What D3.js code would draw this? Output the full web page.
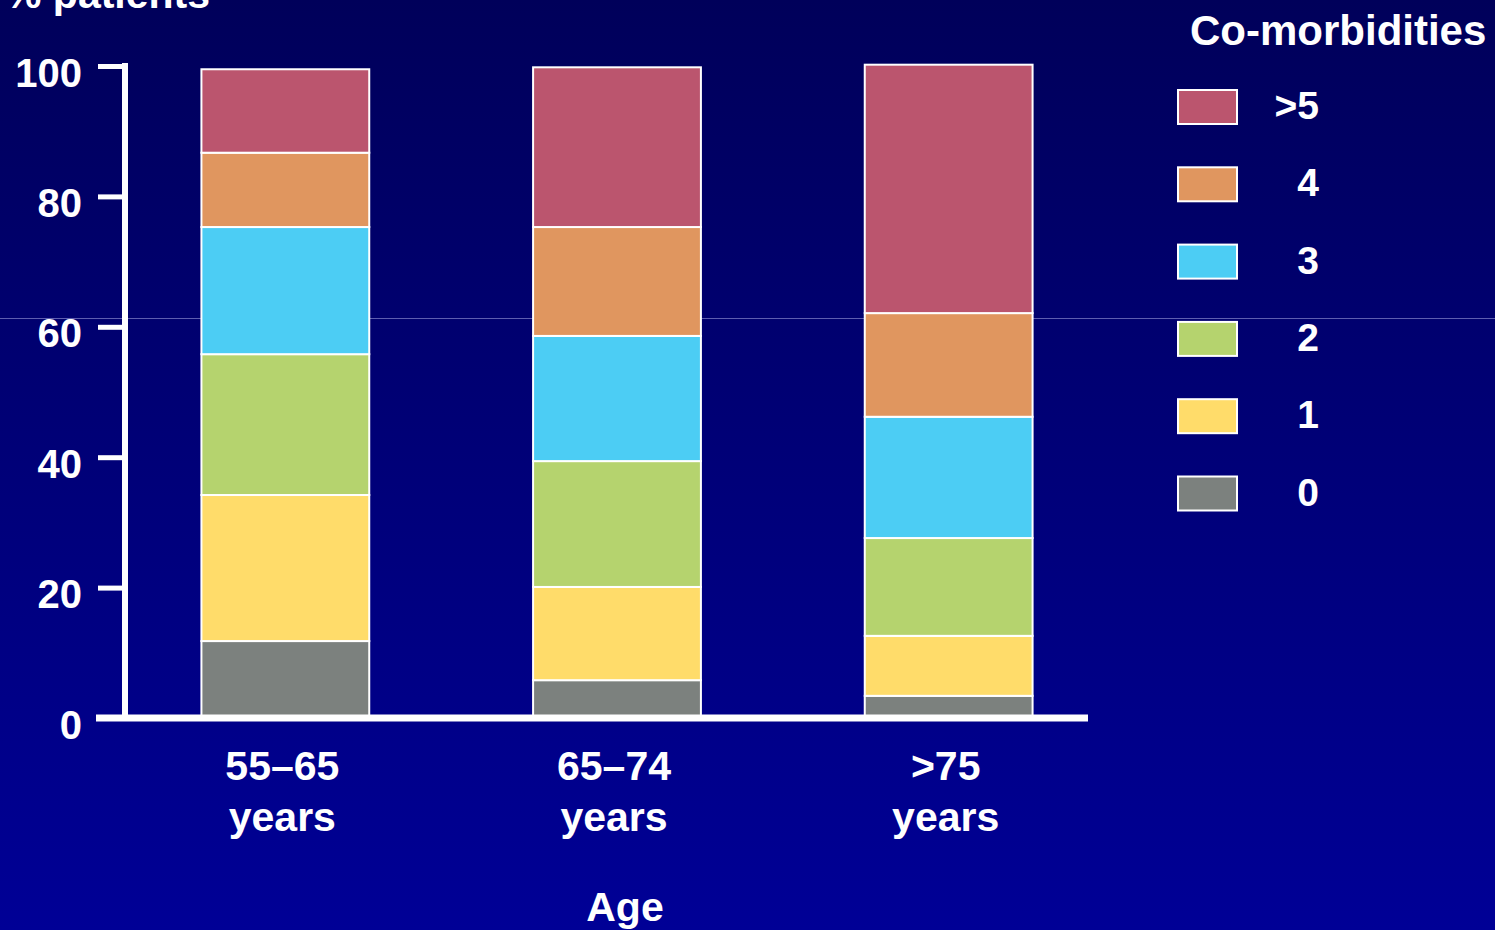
<!DOCTYPE html>
<html><head><meta charset="utf-8">
<script src="https://cdn.jsdelivr.net/npm/d3@7"></script>
<style>
html,body{margin:0;padding:0;overflow:hidden;background:#000070;}
text{font-family:"Liberation Sans",Arial,Helvetica,sans-serif;font-weight:bold;fill:#fff;}
</style></head>
<body>
<script>
const categories = ["55–65|years", "65–74|years", ">75|years"];
const seriesKeys = ["0", "1", "2", "3", "4", ">5"];
const v0  = [11.8, 5.8, 3.4];
const v1  = [22.4, 14.3, 9.2];
const v2  = [21.6, 19.3, 15.0];
const v3  = [19.5, 19.2, 18.6];
const v4  = [11.4, 16.7, 15.9];
const v5p = [12.8, 24.5, 38.1];
const yTicks = [0, 20, 40, 60, 80, 100];
const colors = ["#7c817e", "#ffdc6a", "#b5d36e", "#4ccdf4", "#e0965f", "#bb556e"];
const legendOrder = [">5", "4", "3", "2", "1", "0"];

const W = 1495, H = 930;
const rows = categories.map((c, i) => ({cat: c, "0": v0[i], "1": v1[i], "2": v2[i], "3": v3[i], "4": v4[i], ">5": v5p[i]}));

const svg = d3.select("body").append("svg").attr("width", W).attr("height", H);
const defs = svg.append("defs");
const grad = defs.append("linearGradient").attr("id", "bg").attr("x1", 0).attr("y1", 0).attr("x2", 0).attr("y2", 1);
grad.append("stop").attr("offset", "0%").attr("stop-color", "#00005a");
grad.append("stop").attr("offset", "100%").attr("stop-color", "#000096");
svg.append("rect").attr("width", W).attr("height", H).attr("fill", "url(#bg)");

// faint horizontal line
svg.append("line").attr("x1", 0).attr("x2", W).attr("y1", 318.5).attr("y2", 318.5)
  .attr("stroke", "rgba(170,170,230,0.55)").attr("stroke-width", 1);

const x = d3.scaleBand().domain(categories).range([119.5, 1114.5]).paddingInner(0.494).paddingOuter(0.247);
const y = d3.scaleLinear().domain([0, 100]).range([718, 66]);
const color = d3.scaleOrdinal().domain(seriesKeys).range(colors);

const stack = d3.stack().keys(seriesKeys)(rows);

svg.append("g").selectAll("g").data(stack).join("g")
  .attr("fill", d => color(d.key))
  .selectAll("rect").data(d => d).join("rect")
  .attr("x", d => x(d.data.cat))
  .attr("width", x.bandwidth())
  .attr("y", d => y(d[1]))
  .attr("height", d => y(d[0]) - y(d[1]))
  .attr("stroke", "#fff").attr("stroke-width", 2);

// y axis
const yAxis = svg.append("g").attr("transform", "translate(125,0)")
  .call(d3.axisLeft(y).tickValues(yTicks).tickSize(27).tickSizeOuter(0).tickPadding(15));
yAxis.select(".domain").attr("stroke", "#fff").attr("stroke-width", 6).attr("d", `M0,${y(100) - 3}V${y(0)}`);
yAxis.selectAll(".tick line").attr("stroke", "#fff").attr("stroke-width", 5);
yAxis.selectAll(".tick text").attr("font-size", 40).attr("dy", "0.5em").attr("x", -43).style("fill", "#fff");

// baseline
svg.append("line").attr("x1", 96).attr("x2", 1088).attr("y1", y(0)).attr("y2", y(0))
  .attr("stroke", "#fff").attr("stroke-width", 7);

// x labels
const xl = svg.append("g").selectAll("text").data(categories).join("text")
  .attr("text-anchor", "middle").attr("font-size", 41)
  .attr("transform", d => `translate(${x(d) + x.bandwidth() / 2 - 3},0)`);
xl.selectAll("tspan").data(d => d.split("|")).join("tspan")
  .attr("x", 0).attr("y", (d, i) => 780 + i * 51).text(d => d);

svg.append("text").attr("x", 625).attr("y", 921).attr("text-anchor", "middle").attr("font-size", 41).text("Age");
svg.append("text").attr("x", 5).attr("y", 8).attr("font-size", 41).text("% patients");

// legend
svg.append("text").attr("x", 1190).attr("y", 45).attr("font-size", 42).text("Co-morbidities");
const lg = svg.append("g").selectAll("g").data(legendOrder).join("g")
  .attr("transform", (d, i) => `translate(1178,${90 + i * 77.3})`);
lg.append("rect").attr("width", 59).attr("height", 34).attr("fill", d => color(d))
  .attr("stroke", "#fff").attr("stroke-width", 2);
lg.append("text").attr("x", 141).attr("y", 29).attr("text-anchor", "end").attr("font-size", 39).text(d => d);
</script>
</body></html>
